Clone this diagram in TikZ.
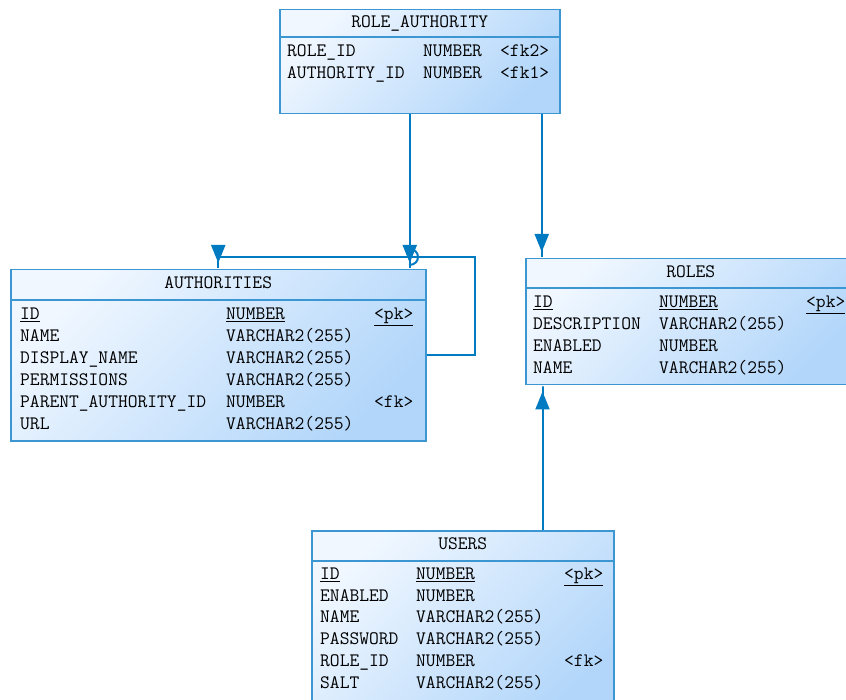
\documentclass[tikz,border=0pt]{standalone}
\usetikzlibrary{arrows.meta}
\definecolor{erline}{RGB}{0,122,192}
\definecolor{erborder}{RGB}{60,150,210}
\definecolor{erlight}{RGB}{240,247,255}
\definecolor{erfill}{RGB}{178,214,250}

\tikzset{
  tbl/.style={draw=erborder, line width=1.5pt, top color=erlight, bottom color=erfill,
    shading angle=45, anchor=north west, inner sep=0pt},
  col/.style={anchor=west, inner sep=0pt, text height=14pt, text depth=3pt,
    font=\fontsize{19}{22}\selectfont\ttfamily},
  sep/.style={draw=erborder, line width=1.5pt},
  fk/.style={draw=erline, line width=2pt,
    -{Triangle[length=18pt,width=14pt] Rectangle[length=6pt,width=2pt]}}
}

\begin{document}
\begin{tikzpicture}[x=1pt,y=-1pt]

  \useasboundingbox (0,0) rectangle (846,700);

  % tables
  \node[tbl, minimum width=280pt, minimum height=104pt] (ra) at (279,9) {};
  \node[tbl, minimum width=415pt, minimum height=171pt] (auth) at (10,269) {};
  \node[tbl, minimum width=330pt, minimum height=126pt] (roles) at (525,258) {};
  \node[tbl, minimum width=302pt, minimum height=190pt] (users) at (311,530) {};

  % headers
  \node[col, anchor=center] (raTitle) at ([yshift=-13pt]ra.north) {ROLE\_AUTHORITY};
  \node[col, anchor=center] (authTitle) at ([yshift=-14pt]auth.north) {AUTHORITIES};
  \node[col, anchor=center] (rolesTitle) at ([yshift=-14pt]roles.north) {ROLES};
  \node[col, anchor=center] (usersTitle) at ([yshift=-14pt]users.north) {USERS};
  \draw[sep] ([yshift=-28pt]ra.north west) -- ([yshift=-28pt]ra.north east);
  \draw[sep] ([yshift=-31pt]auth.north west) -- ([yshift=-31pt]auth.north east);
  \draw[sep] ([yshift=-30pt]roles.north west) -- ([yshift=-30pt]roles.north east);
  \draw[sep] ([yshift=-31pt]users.north west) -- ([yshift=-31pt]users.north east);

  % columns
  \foreach \n/\t/\k [count=\i] in {ROLE\_ID/NUMBER/<fk2>,AUTHORITY\_ID/NUMBER/<fk1>}
  {
    \node[col] (raN\i) at ([shift={(8,20+22*\i)}]ra.north west) {\n};
    \node[col] (raT\i) at ([shift={(144,20+22*\i)}]ra.north west) {\t};
    \node[col] (raK\i) at ([shift={(221,20+22*\i)}]ra.north west) {\k};
  }
  \foreach \n/\t/\k [count=\i] in {{\underline{ID}}/{\underline{NUMBER}}/{\underline{<pk>}},
    NAME/VARCHAR2(255)/{},DISPLAY\_NAME/VARCHAR2(255)/{},PERMISSIONS/VARCHAR2(255)/{},
    PARENT\_AUTHORITY\_ID/NUMBER/<fk>,URL/VARCHAR2(255)/{}}
  {
    \node[col] (authN\i) at ([shift={(10,23+22*\i)}]auth.north west) {\n};
    \node[col] (authT\i) at ([shift={(216,23+22*\i)}]auth.north west) {\t};
    \node[col] (authK\i) at ([shift={(364,23+22*\i)}]auth.north west) {\k};
  }
  \foreach \n/\t/\k [count=\i] in {{\underline{ID}}/{\underline{NUMBER}}/{\underline{<pk>}},
    DESCRIPTION/VARCHAR2(255)/{},ENABLED/NUMBER/{},NAME/VARCHAR2(255)/{}}
  {
    \node[col] (rolesN\i) at ([shift={(8,22+22*\i)}]roles.north west) {\n};
    \node[col] (rolesT\i) at ([shift={(134,22+22*\i)}]roles.north west) {\t};
    \node[col] (rolesK\i) at ([shift={(281,22+22*\i)}]roles.north west) {\k};
  }
  \foreach \n/\t/\k [count=\i] in {{\underline{ID}}/{\underline{NUMBER}}/{\underline{<pk>}},
    ENABLED/NUMBER/{},NAME/VARCHAR2(255)/{},PASSWORD/VARCHAR2(255)/{},
    ROLE\_ID/NUMBER/<fk>,SALT/VARCHAR2(255)/{}}
  {
    \node[col] (usersN\i) at ([shift={(9,22+21.8*\i)}]users.north west) {\n};
    \node[col] (usersT\i) at ([shift={(105,22+21.8*\i)}]users.north west) {\t};
    \node[col] (usersK\i) at ([shift={(253,22+21.8*\i)}]users.north west) {\k};
  }

  % references
  \draw[fk] ([xshift=-10pt]ra.south) -- ([xshift=-10pt]ra.south |- auth.north);
  \draw[fk] ([xshift=122pt]ra.south) -- ([xshift=122pt]ra.south |- roles.north);
  \draw[fk] ([xshift=-72pt]users.north east) -- ([xshift=-72pt]users.north east |- roles.south);
  \draw[fk] (auth.east) -- ++(48,0) |- ([yshift=12pt]auth.north) -- (auth.north);
  \draw[erline, line width=2pt] (409,249) .. controls (421,249) and (421,265) .. (409,265);

\end{tikzpicture}
\end{document}
